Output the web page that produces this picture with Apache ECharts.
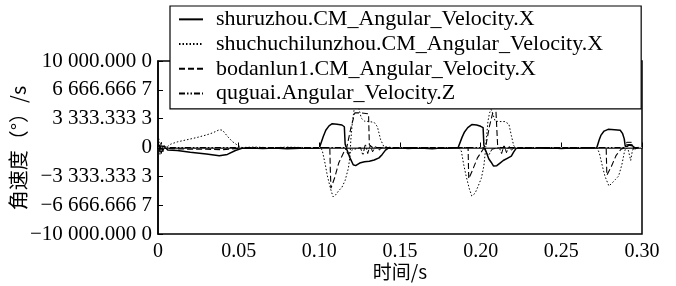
<!DOCTYPE html>
<html lang="zh">
<head>
    <meta charset="UTF-8">
    <title>角速度</title>
    <script src="https://cdn.jsdelivr.net/npm/echarts@6/dist/echarts.min.js"></script>
</head>
<body>
<div id="chart"></div>
</body>
<style>
    * {
        padding: 0;
        margin: 0;
    }

    html, body {
        background-color: white;
    }

    #chart {
        width: 676px;
        height: 286px;
    }
</style>
<script>

    const seriesNames = [
        'shuruzhou.CM_Angular_Velocity.X',
        'shuchuchilunzhou.CM_Angular_Velocity.X',
        'bodanlun1.CM_Angular_Velocity.X',
        'quguai.Angular_Velocity.Z'
    ]

    const xName = '时间/s'
    const yName = '角速度（°）/s'
    const yTickLabels = ['\u221210 000.000 0', '\u22126 666.666 7', '\u22123 333.333 3', '0',
        '3 333.333 3', '6 666.666 7', '10 000.000 0']
    const xTickLabels = ['0', '0.05', '0.10', '0.15', '0.20', '0.25', '0.30']

    // [time s, angular velocity (°)/s]
    const shuruzhou = [
        [0, 0], [0.002, -200], [0.004, 150], [0.006, -300], [0.012, -350], [0.02, -550], [0.03, -750],
        [0.038, -950], [0.043, -800], [0.048, -350], [0.052, -100], [0.058, -50], [0.065, -120],
        [0.072, -60], [0.08, -150], [0.088, -80], [0.095, -100], [0.1, -60],
        [0.101, 0], [0.1025, 1300], [0.104, 2000], [0.106, 2500], [0.108, 2750], [0.111, 2700],
        [0.114, 2600], [0.1155, 2400], [0.116, 400], [0.117, -200], [0.119, -1200], [0.121, -2000],
        [0.1225, -2100], [0.125, -1800], [0.128, -1650], [0.131, -1600], [0.134, -1450], [0.137, -1200],
        [0.139, -800], [0.141, -300], [0.143, -50], [0.146, -100], [0.15, -30], [0.155, -120],
        [0.16, -60], [0.165, -100], [0.17, -150], [0.175, -60], [0.18, -100], [0.186, -30],
        [0.1872, 0], [0.1885, 1200], [0.19, 1800], [0.192, 2300], [0.1945, 2650], [0.1975, 2600],
        [0.2, 2450], [0.2015, 2300], [0.202, 300], [0.203, -300], [0.205, -1300], [0.2065, -1700],
        [0.208, -2150], [0.21, -2100], [0.212, -1800], [0.214, -1500], [0.2165, -1250], [0.219, -1000],
        [0.2205, -500], [0.222, -100], [0.225, -50], [0.23, -100], [0.235, -40], [0.24, -90],
        [0.245, -50], [0.25, -110], [0.255, -60], [0.26, -90], [0.265, -40], [0.27, -60],
        [0.272, 0], [0.2735, 900], [0.2745, 1400], [0.2765, 1900], [0.279, 2100], [0.283, 2050],
        [0.2865, 2000], [0.288, 1600], [0.289, 1000], [0.2895, 300], [0.29, 0], [0.292, 300],
        [0.294, 200], [0.296, -100], [0.298, 0]
    ]

    const shuchuchilunzhou = [
        [0, 0], [0.001, -600], [0.002, 500], [0.003, -300], [0.005, 0], [0.008, 400], [0.012, 650],
        [0.018, 900], [0.024, 1150], [0.03, 1450], [0.034, 1700], [0.038, 2050], [0.04, 2000],
        [0.043, 1300], [0.046, 700], [0.049, 300], [0.052, 0], [0.06, 50], [0.07, -30], [0.08, 40],
        [0.09, 0], [0.101, 0],
        [0.102, -500], [0.1035, -1800], [0.105, -3300], [0.107, -4800], [0.1085, -5700], [0.11, -5500],
        [0.112, -5000], [0.114, -4600], [0.116, -3800], [0.118, -2400], [0.119, -1000], [0.1195, 800],
        [0.1205, 3000], [0.1215, 4300], [0.123, 4600], [0.1245, 4500], [0.126, 3400], [0.128, 3050],
        [0.131, 3000], [0.134, 2900], [0.136, 2400], [0.138, 900], [0.14, 100], [0.145, 0], [0.186, 0],
        [0.188, -400], [0.1895, -2000], [0.191, -3300], [0.193, -4800], [0.1945, -5600], [0.1965, -5300],
        [0.1985, -4450], [0.2005, -3500], [0.202, -2100], [0.203, -300], [0.2035, 900], [0.2045, 3000],
        [0.2055, 4000], [0.2065, 4400], [0.2075, 3900], [0.209, 3050], [0.212, 3000], [0.215, 3000],
        [0.2175, 2700], [0.219, 1400], [0.2205, 200], [0.222, 0], [0.272, 0],
        [0.2735, -600], [0.2755, -2200], [0.277, -3300], [0.2785, -4000], [0.2795, -4450], [0.2815, -4100],
        [0.2835, -3700], [0.2855, -3300], [0.2875, -2000], [0.289, -600], [0.29, 0], [0.2915, -300],
        [0.293, -1500], [0.294, -400], [0.295, 0], [0.2975, 0]
    ]

    const bodanlun1 = [
        [0, 0], [0.001, 300], [0.002, -700], [0.003, 200], [0.005, -100], [0.01, -150], [0.02, -200],
        [0.03, -200], [0.04, -250], [0.05, -100], [0.06, 0], [0.105, 0],
        [0.1065, 0], [0.1068, -2500], [0.1072, -4700], [0.108, -4800], [0.1095, -3500], [0.112, -1800],
        [0.115, -600], [0.117, 0], [0.1195, 2200], [0.122, 4000], [0.126, 4000], [0.1305, 3900],
        [0.131, 300], [0.133, 0], [0.187, 0],
        [0.1922, 0], [0.1926, -3600], [0.1935, -3700], [0.195, -2600], [0.198, -1200], [0.2015, -200],
        [0.203, 0], [0.2055, 2500], [0.2075, 4000], [0.2095, 4100], [0.2105, 300], [0.212, 0], [0.274, 0],
        [0.2778, 0], [0.2782, -3200], [0.279, -3300], [0.281, -2200], [0.284, -900], [0.287, -200],
        [0.2895, 0], [0.2905, 300], [0.2925, 350], [0.294, 300], [0.2945, 0], [0.298, 0]
    ]

    const quguai = [
        [0, 0], [0.0005, 1000], [0.0012, -800], [0.002, 700], [0.003, -500], [0.004, 200], [0.006, 0],
        [0.05, 0], [0.1, 0], [0.116, 0], [0.117, -500], [0.118, -800], [0.12, -300], [0.1255, 0],
        [0.127, -900], [0.1285, 400], [0.13, -700], [0.1315, 300], [0.133, -500], [0.135, 200],
        [0.137, -300], [0.139, 0], [0.202, 0], [0.2035, -600], [0.205, -900], [0.207, -200],
        [0.2115, 0], [0.213, -700], [0.2145, 300], [0.216, -600], [0.2175, 200], [0.219, -300],
        [0.221, 0], [0.28, 0], [0.2895, 0], [0.2905, 600], [0.2935, 600], [0.295, -300], [0.297, 0]
    ]

    const seriesData = [shuruzhou, shuchuchilunzhou, bodanlun1, quguai]
    const lineTypes = ['solid', [1.5, 2], [6, 3], [6, 2, 1.5, 2, 1.5, 2]]
    const lineWidths = [1.5, 1, 1.1, 1]

    const serif = '"Liberation Serif", "Times New Roman", serif'
    const cjk = '"Noto Sans CJK SC", sans-serif'
    const step = 10000 / 3

    const chart = echarts.init(document.getElementById('chart'))

    const series = seriesNames.map((name, i) => {
        const s = {
            name: name,
            type: 'line',
            data: seriesData[i],
            symbol: 'none',
            animation: false,
            z: 3 + i,
            lineStyle: {color: '#000', width: lineWidths[i], type: lineTypes[i]},
            itemStyle: {color: '#000'}
        }
        if (i === 3) {
            s.markLine = {
                silent: true,
                symbol: 'none',
                label: {show: false},
                lineStyle: {color: '#9a9a9a', type: 'solid', width: 1},
                data: [{yAxis: 0}]
            }
        }
        return s
    })

    chart.setOption({
        backgroundColor: '#fff',
        animation: false,
        grid: {
            left: 158, right: 34, top: 61, bottom: 52,
            outerBoundsMode: 'none',
            containLabel: false,
            show: true, borderColor: '#000', borderWidth: 1.5
        },
        // axis titles
        graphic: [
            {
                type: 'text', x: 400, y: 272,
                style: {text: xName, font: '19px ' + cjk, fill: '#000', align: 'center', verticalAlign: 'middle'}
            },
            {
                type: 'text', x: 18, y: 148, rotation: Math.PI / 2,
                style: {text: yName, font: '20px ' + cjk, fill: '#000', align: 'center', verticalAlign: 'middle'}
            }
        ],
        legend: {
            orient: 'vertical',
            left: 170,
            top: 6,
            padding: [1, 38, 3, 8],
            itemGap: 0,
            itemWidth: 24,
            itemHeight: 20,
            backgroundColor: '#fff',
            borderColor: '#000',
            borderWidth: 1.2,
            z: 10,
            itemStyle: {opacity: 0},
            textStyle: {fontFamily: serif, fontSize: 22, lineHeight: 24.7, color: '#000', padding: [0, 0, 0, 8]},
            data: seriesNames
        },
        xAxis: {
            type: 'value',
            min: 0,
            max: 0.3,
            interval: 0.05,
            axisLine: {show: true, lineStyle: {color: '#000', width: 1.5}},
            axisTick: {show: true, inside: true, length: 5, lineStyle: {color: '#000'}},
            axisLabel: {
                margin: 8,
                fontFamily: serif, fontSize: 20, color: '#000',
                formatter: (v) => xTickLabels[Math.round(v / 0.05)]
            },
            splitLine: {show: false}
        },
        yAxis: {
            type: 'value',
            min: -10000,
            max: 10000,
            interval: step,
            axisLine: {show: true, lineStyle: {color: '#000', width: 1.5}},
            axisTick: {show: true, inside: true, length: 5, lineStyle: {color: '#000'}},
            axisLabel: {
                margin: 6,
                fontFamily: serif, fontSize: 21, color: '#000',
                formatter: (v) => yTickLabels[Math.round(v / step) + 3]
            },
            splitLine: {show: false}
        },
        series: series
    })

</script>
</html>
